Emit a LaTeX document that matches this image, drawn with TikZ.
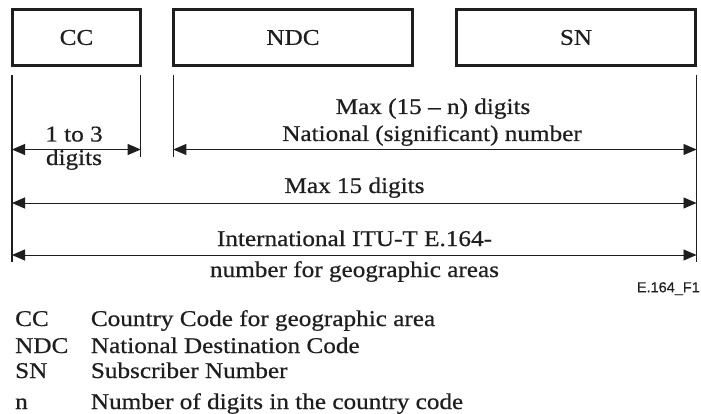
\documentclass[tikz,border=0pt]{standalone}
\usepackage{fontspec}
\setmainfont[FakeStretch=1.12,FakeBold=0.6]{Liberation Serif}
\newfontfamily\figsans[FakeBold=0.4]{Liberation Sans}
\usetikzlibrary{arrows.meta}
\definecolor{ink}{RGB}{30,30,30}
\begin{document}
\begin{tikzpicture}[x=1pt,y=-1pt,
  field/.style={draw=ink,line width=2.6pt,minimum height=56.4pt,inner sep=0pt,
    font=\fontsize{22.5}{26}\selectfont,text=ink},
  lbl/.style={font=\fontsize{22.5}{26}\selectfont,anchor=base,inner sep=0pt,text=ink},
  leg/.style={font=\fontsize{22.5}{26}\selectfont,anchor=base west,inner sep=0pt,text=ink},
  extline/.style={draw=ink,line width=1.3pt},
  dimline/.style={draw=ink,line width=0.9pt,
    {Triangle[length=13pt,width=11pt]}-{Triangle[length=13pt,width=11pt]}}]
\useasboundingbox (0,0) rectangle (701,414);

% fields
\node[field,minimum width=128.4pt] (cc) at (76.5,37.5) {CC};
\node[field,minimum width=239.4pt] (ndc) at (293,37.5) {NDC};
\node[field,minimum width=239.4pt] (sn) at (576,37.5) {SN};

% extension lines
\coordinate (aT) at (12,75);   \coordinate (aB) at (12,262);
\coordinate (bT) at (140.7,75); \coordinate (bB) at (140.7,157);
\coordinate (cT) at (173.3,75); \coordinate (cB) at (173.3,157);
\coordinate (dT) at (696.5,75); \coordinate (dB) at (696.5,262);
\draw[extline] (aT) -- (aB);
\draw[extline] (bT) -- (bB);
\draw[extline] (cT) -- (cB);
\draw[extline] (dT) -- (dB);

% dimension arrow end points
\coordinate (a1) at (12,149.5);  \coordinate (b1) at (140.7,149.5);
\coordinate (c1) at (173.3,149.5); \coordinate (d1) at (696.5,149.5);
\coordinate (a2) at (12,203);  \coordinate (d2) at (696.5,203);
\coordinate (a3) at (12,255);  \coordinate (d3) at (696.5,255);
\draw[dimline] (a1) -- (b1);
\draw[dimline] (c1) -- (d1);
\draw[dimline] (a2) -- (d2);
\draw[dimline] (a3) -- (d3);

% dimension labels
\node[lbl] (t13a) at (74,141.5) {1 to 3};
\node[lbl] (t13b) at (74,165) {digits};
\node[lbl] (tmaxn) at (433,114) {Max (15 -- n) digits};
\node[lbl] (tnat) at (432,141) {National (significant) number};
\node[lbl] (tmax) at (354.5,193) {Max 15 digits};
\node[lbl] (tint) at (354.5,246) {International ITU-T E.164-};
\node[lbl] (tnum) at (354.5,277) {number for geographic areas};
\node[font=\figsans\fontsize{14.5}{16}\selectfont,anchor=base east,inner sep=0pt,text=ink] (fig) at (700,292.3) {E.164\_F1};

% legend
\node[leg] (k1) at (15,326) {CC};
\node[leg] (v1) at (90.7,326) {Country Code for geographic area};
\node[leg] (k2) at (15,353) {NDC};
\node[leg] (v2) at (90.7,353) {National Destination Code};
\node[leg] (k3) at (15,378) {SN};
\node[leg] (v3) at (90.7,378) {Subscriber Number};
\node[leg] (k4) at (15,409) {n};
\node[leg] (v4) at (90.7,409) {Number of digits in the country code};
\end{tikzpicture}
\end{document}
